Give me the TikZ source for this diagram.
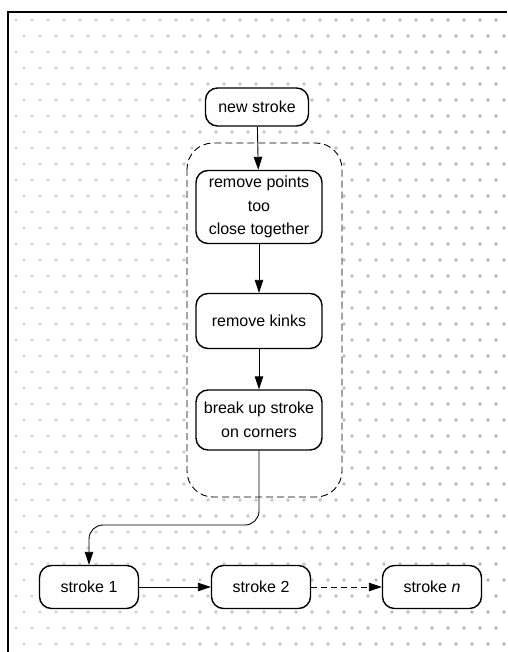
\documentclass[tikz,border=0pt]{standalone}
\usepackage{fontspec}
\setmainfont{Liberation Sans}
\usetikzlibrary{arrows.meta}
\begin{document}
\begin{tikzpicture}[x=1pt,y=-1pt,
  box/.style={draw=black, line width=1.4pt, fill=white, rounded corners=12pt,
    align=center, inner sep=0pt, font=\fontsize{16}{23.5}\selectfont},
  flow/.style={draw=black, line width=0.9pt, -{Triangle[length=13pt,width=8.5pt]}},
  group/.style={draw=black, line width=0.9pt, dash pattern=on 7pt off 4pt,
    fill=white, rounded corners=26pt},
  frame/.style={draw=black, line width=1.8pt}
]
\useasboundingbox (0,0) rectangle (507,652);

% halftone background, a little darker towards the right
\foreach \j in {0,...,40}{
  \foreach \i in {0,...,31}{
    \pgfmathsetmacro{\xx}{16+\i*16+mod(\j,2)*8}
    \pgfmathsetmacro{\yy}{20+\j*16}
    \pgfmathsetmacro{\tone}{int(14+\xx/28)}
    \fill[black!\tone] (\xx,\yy) circle (1.8pt);
  }
}

% frame (top and left rules)
\draw[frame] (8,652) -- (8,12) -- (507,12);

% dashed group around the cleanup steps
\draw[group] (187,143) rectangle (342,497);

% nodes
\node[box, minimum width=103pt, minimum height=38pt] (new) at (257,107) {new stroke};
\node[box, minimum width=126pt, minimum height=73pt] (pts) at (259,207) {remove points\\too\\close together};
\node[box, minimum width=126pt, minimum height=55pt] (kinks) at (259,321) {remove kinks};
\node[box, minimum width=126pt, minimum height=60pt] (brk) at (259,420) {break up stroke\\on corners};

\node[box, minimum width=99pt, minimum height=43pt] (s1) at (89,587) {stroke 1};
\node[box, minimum width=99pt, minimum height=43pt] (s2) at (261,587) {stroke 2};
\node[box, minimum width=99pt, minimum height=43pt] (sn) at (432,587) {stroke \textit{n}};

% connectors
\draw[flow] (new) -- (pts);
\draw[flow] (pts) -- (kinks);
\draw[flow] (kinks) -- (brk);
\coordinate (turnR) at (brk.south |- 0,525);
\coordinate (turnL) at (s1.north |- 0,525);
\draw[flow, rounded corners=14pt] (brk.south) -- (turnR) -- (turnL) -- (s1.north);
\draw[flow] (s1) -- (s2);
\draw[flow, dash pattern=on 6pt off 4pt] (s2) -- (sn);
\end{tikzpicture}
\end{document}
